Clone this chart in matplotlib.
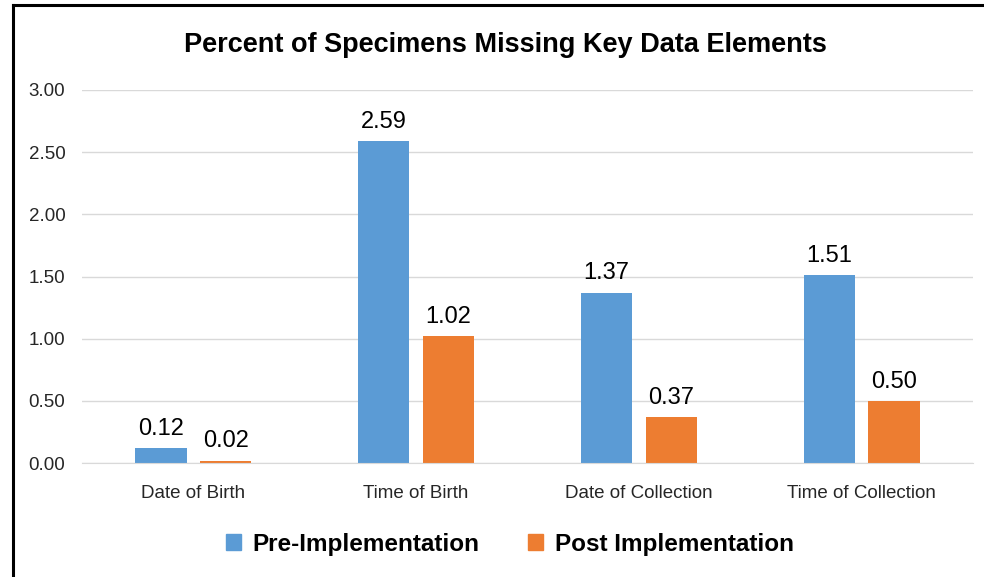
import numpy as np
import matplotlib
matplotlib.use("Agg")
import matplotlib.pyplot as plt
from matplotlib.lines import Line2D
from matplotlib.patches import Patch

categories = ["Date of Birth", "Time of Birth", "Date of Collection", "Time of Collection"]
pre_impl = [0.12, 2.59, 1.37, 1.51]
post_impl = [0.02, 1.02, 0.37, 0.50]
series_names = ["Pre-Implementation", "Post Implementation"]

BLUE = "#5B9BD5"
ORANGE = "#ED7D31"
GRID = "#D9D9D9"

plt.rcParams["font.family"] = ["Liberation Sans", "DejaVu Sans"]

fig = plt.figure(figsize=(9.84, 5.77), dpi=100)
W, H = 984, 577
ax = fig.add_axes([82 / W, 1 - 463 / H, (973 - 82) / W, (463 - 90) / H])

x = np.arange(len(categories))
bw = 0.23
off = 0.145
b1 = ax.bar(x - off, pre_impl, bw, color=BLUE, zorder=3)
b2 = ax.bar(x + off, post_impl, bw, color=ORANGE, zorder=3)

for bars, vals in ((b1, pre_impl), (b2, post_impl)):
    for r, v in zip(bars, vals):
        ax.annotate(f"{v:.2f}", (r.get_x() + r.get_width() / 2, v),
                    textcoords="offset points", xytext=(0, 6),
                    ha="center", va="bottom", fontsize=17, color="#000000")

ax.set_xlim(-0.5, 3.5)
ax.set_ylim(0, 3.0)
ax.set_yticks(np.arange(0, 3.01, 0.5))
ax.set_yticklabels([f"{v:.2f}" for v in np.arange(0, 3.01, 0.5)])
ax.set_xticks(x)
ax.set_xticklabels(categories)
ax.tick_params(axis="both", length=0, labelsize=13.5, colors="#262626")
ax.tick_params(axis="x", pad=16)
ax.tick_params(axis="y", pad=12)
ax.grid(True, axis="y", color=GRID, lw=1.0, zorder=0)
for s in ("top", "right", "left"):
    ax.spines[s].set_visible(False)
ax.spines["bottom"].set_color(GRID)
ax.spines["bottom"].set_zorder(4)

fig.text(505 / W, 1 - 45 / H, "Percent of Specimens Missing Key Data Elements",
         ha="center", va="center", fontsize=19.5, fontweight="bold", color="#000000")

handles = [Patch(color=BLUE), Patch(color=ORANGE)]
leg = fig.legend(handles, series_names, loc="center", bbox_to_anchor=(510 / W, 1 - 544 / H),
                 ncol=2, frameon=False, handlelength=0.6, handleheight=0.6,
                 handletextpad=0.5, columnspacing=2.0,
                 prop={"size": 17.5, "weight": "bold"})

# outer frame (left and top edges visible in the reference)
fig.add_artist(Line2D([13 / W, 13 / W], [0, 1 - 5 / H], color="black", lw=2.2,
                      transform=fig.transFigure))
fig.add_artist(Line2D([13 / W, 1], [1 - 5 / H, 1 - 5 / H], color="black", lw=2.2,
                      transform=fig.transFigure))

fig.savefig("out.png", dpi=100)
